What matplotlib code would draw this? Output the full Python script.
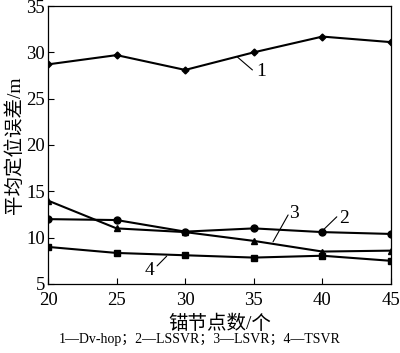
import matplotlib
matplotlib.use("Agg")
import matplotlib.pyplot as plt

plt.rcParams['font.family'] = ['Liberation Serif', 'Noto Sans CJK SC']
plt.rcParams['axes.unicode_minus'] = False

x = [20, 25, 30, 35, 40, 45]
dvhop = [28.7, 29.7, 28.1, 30.0, 31.7, 31.1]
lssvr = [12.0, 11.9, 10.65, 11.0, 10.6, 10.4]
lsvr = [14.0, 11.0, 10.6, 9.65, 8.5, 8.6]
tsvr = [9.0, 8.35, 8.1, 7.85, 8.05, 7.5]

xticks = [20, 25, 30, 35, 40, 45]
yticks = [5, 10, 15, 20, 25, 30, 35]

fig = plt.figure(figsize=(4.0, 3.53), dpi=100)
ax = fig.add_axes([0.12, 0.1955, 0.8575, 0.7875])

kw = dict(color='black', lw=1.5)
ax.plot(x, dvhop, marker='D', ms=3.5, **kw)
ax.plot(x, lssvr, marker='o', ms=5, **kw)
ax.plot(x, lsvr, marker='^', ms=5, **kw)
ax.plot(x, tsvr, marker='s', ms=5, **kw)

ax.set_xlim(20, 45)
ax.set_ylim(5, 35)
ax.set_xticks(xticks)
ax.set_yticks(yticks)
ax.tick_params(direction='in', labelsize=13.5, length=4, width=0.8)
ax.tick_params(axis='x', pad=6)
ax.tick_params(axis='y', pad=2)
for s in ax.spines.values():
    s.set_linewidth(0.9)

ax.set_xlabel('锚节点数/个', fontsize=14, labelpad=4)
ax.set_ylabel('平均定位误差/m', fontsize=14, labelpad=2)

# leader lines and labels
leaders = [
    ('1', (33.8, 29.5), (34.9, 28.1), (35.5, 27.9)),
    ('2', (39.9, 10.6), (41.05, 12.25), (41.55, 12.1)),
    ('3', (36.4, 9.55), (37.5, 12.45), (37.9, 12.65)),
    ('4', (27.95, 6.95), (28.65, 8.0), (27.4, 6.5)),
]
for lab, p0, p1, pt in leaders:
    ax.annotate('', xy=p0, xytext=p1,
                arrowprops=dict(arrowstyle='-', lw=0.8, color='black',
                                shrinkA=0, shrinkB=0))
    ax.text(pt[0], pt[1], lab, fontsize=14, ha='center', va='center')

fig.text(0.5, 0.037, '1—Dv-hop；2—LSSVR；3—LSVR；4—TSVR',
         fontsize=10, ha='center', va='center')

fig.savefig('out.png', dpi=100)
